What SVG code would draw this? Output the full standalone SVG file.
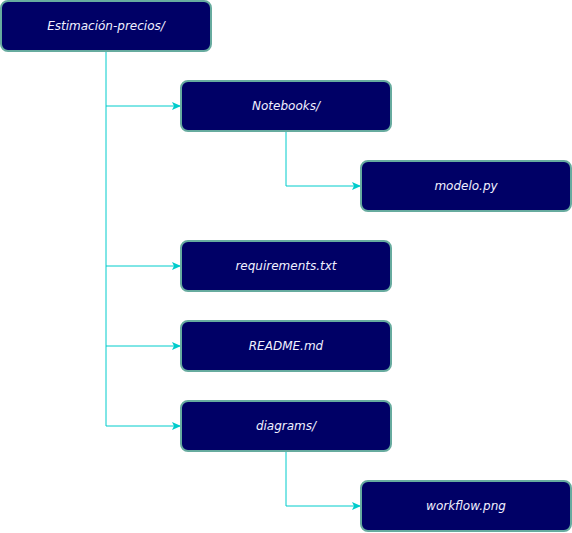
<svg xmlns="http://www.w3.org/2000/svg" width="572" height="533" viewBox="0 0 572 533">
<style>
.n rect{fill:#000066;stroke:#67AB9F;stroke-width:2}
.n text{fill:#F0F0FF;font-family:"DejaVu Sans",Verdana,sans-serif;font-style:italic;font-size:12px;text-anchor:middle;dominant-baseline:central}
.c path{fill:none;stroke:#00CCCC;stroke-width:1}
</style>
<defs>
<marker id="a" markerWidth="10" markerHeight="10" refX="8" refY="5" orient="auto" markerUnits="userSpaceOnUse">
<path d="M0,1 L9,5 L0,9 L2,5 Z" fill="#00CCCC"/>
</marker>
</defs>
<g class="c">
<path d="M106,51 V106 H180" marker-end="url(#a)"/>
<path d="M106,106 V266 H180" marker-end="url(#a)"/>
<path d="M106,266 V346 H180" marker-end="url(#a)"/>
<path d="M106,346 V426 H180" marker-end="url(#a)"/>
<path d="M286,131 V186 H360" marker-end="url(#a)"/>
<path d="M286,451 V506 H360" marker-end="url(#a)"/>
</g>
<g id="root" class="n"><rect x="1" y="1" width="210" height="50" rx="7"/><text x="106" y="26">Estimación-precios/</text></g>
<g id="notebooks" class="n"><rect x="181" y="81" width="210" height="50" rx="7"/><text x="286" y="106">Notebooks/</text></g>
<g id="modelo" class="n"><rect x="361" y="161" width="210" height="50" rx="7"/><text x="466" y="186">modelo.py</text></g>
<g id="requirements" class="n"><rect x="181" y="241" width="210" height="50" rx="7"/><text x="286" y="266">requirements.txt</text></g>
<g id="readme" class="n"><rect x="181" y="321" width="210" height="50" rx="7"/><text x="286" y="346">README.md</text></g>
<g id="diagrams" class="n"><rect x="181" y="401" width="210" height="50" rx="7"/><text x="286" y="426">diagrams/</text></g>
<g id="workflow" class="n"><rect x="361" y="481" width="210" height="50" rx="7"/><text x="466" y="506">workflow.png</text></g>
</svg>
